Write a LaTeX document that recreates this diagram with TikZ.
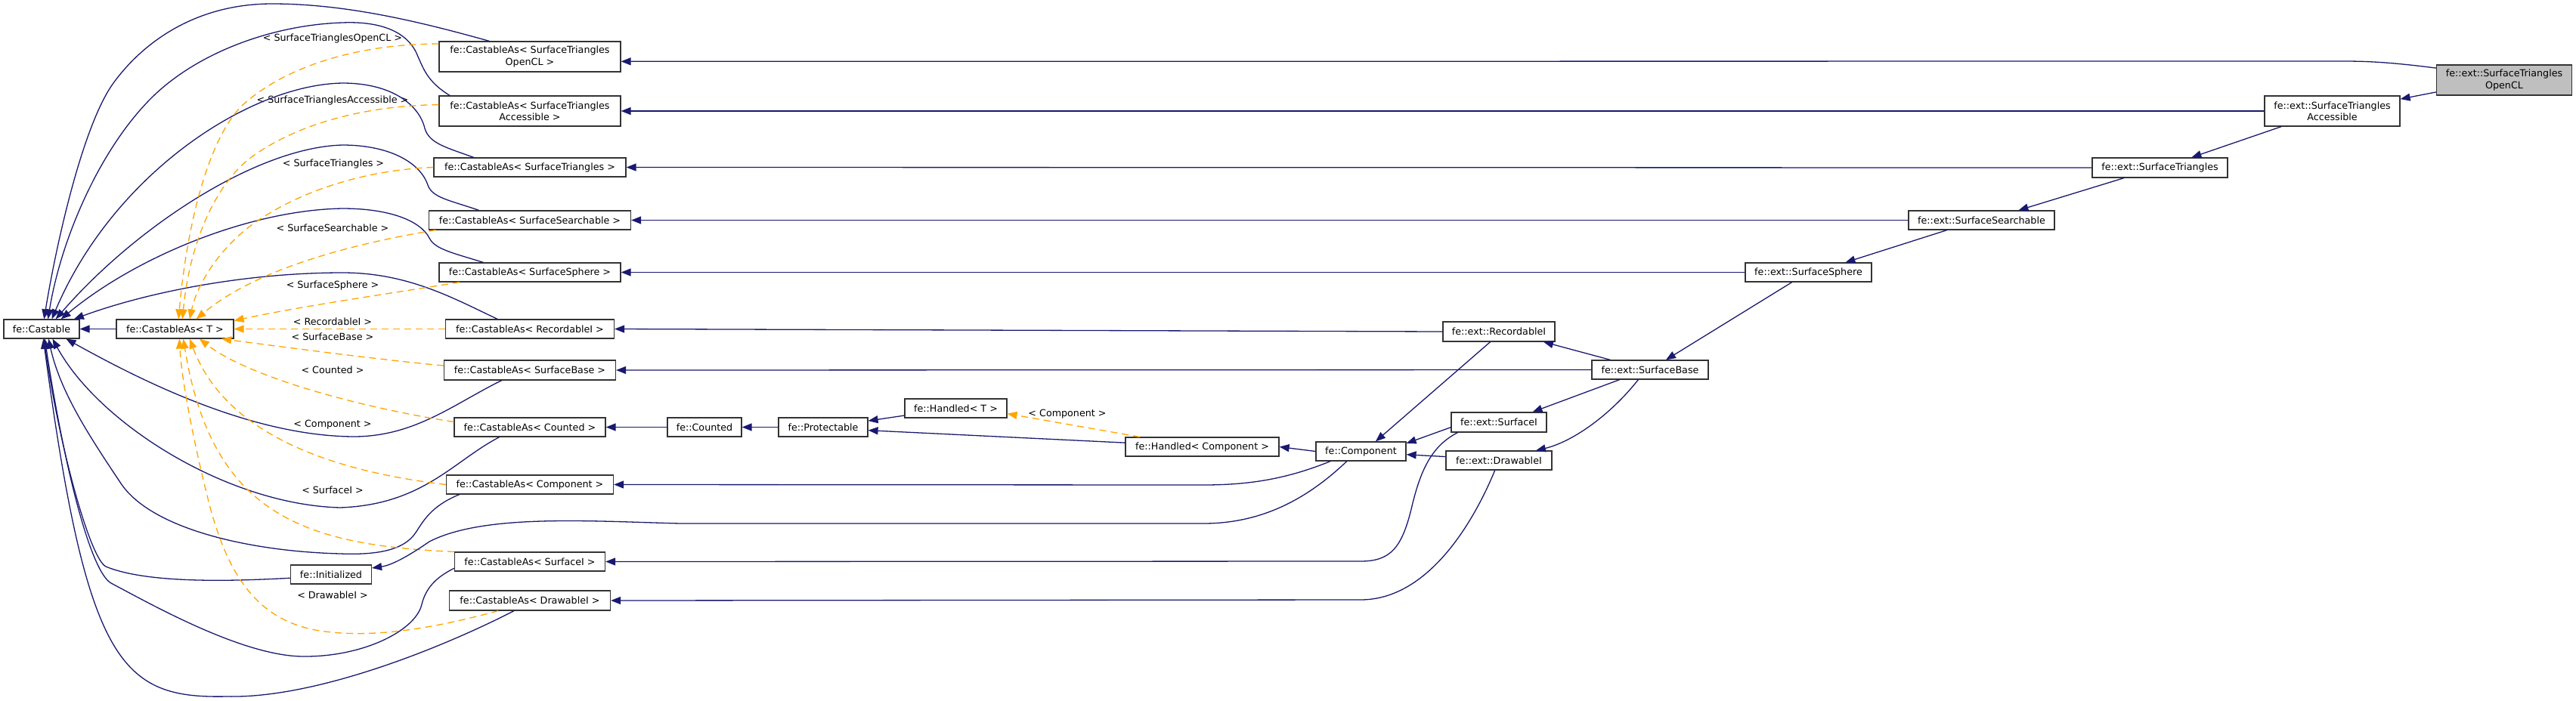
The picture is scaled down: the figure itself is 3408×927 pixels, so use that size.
\documentclass[tikz,border=0pt]{standalone}
\usepackage{fontspec}
\setmainfont{DejaVu Sans}
\usetikzlibrary{arrows.meta}
\definecolor{navyc}{HTML}{191970}
\definecolor{orangec}{HTML}{FFA500}
\definecolor{boxgray}{HTML}{BFBFBF}
\definecolor{bordc}{HTML}{333333}
\begin{document}
\begin{tikzpicture}[x=1pt,y=-1pt,
  box/.style={draw=bordc, line width=1.2pt, fill=white, inner sep=0pt, align=center,
    font=\fontsize{12.7pt}{15.2pt}\selectfont},
  inh/.style={draw=navyc, line width=1.3pt, -{Triangle[length=13pt,width=10pt]}},
  tmpl/.style={draw=orangec, line width=1.3pt, dash pattern=on 9pt off 6pt, -{Triangle[length=13pt,width=10pt]}},
  lbl/.style={inner sep=0pt, font=\fontsize{12.7pt}{15.2pt}\selectfont}]
\useasboundingbox (0,0) rectangle (3408,927);

% nodes
\node[box,minimum width=100pt,minimum height=25pt] (Castable) at (55,435.5) {fe::Castable};
\node[box,minimum width=155pt,minimum height=25pt] (CastT) at (231.5,435.5) {fe::CastableAs< T >};
\node[box,minimum width=240pt,minimum height=40pt] (CASTOCL) at (701,75) {fe::CastableAs< SurfaceTriangles\\OpenCL >};
\node[box,minimum width=240pt,minimum height=40pt] (CASTA) at (701,147) {fe::CastableAs< SurfaceTriangles\\Accessible >};
\node[box,minimum width=254pt,minimum height=25pt] (CAST) at (701,221.5) {fe::CastableAs< SurfaceTriangles >};
\node[box,minimum width=267pt,minimum height=25pt] (CASS) at (701,291.5) {fe::CastableAs< SurfaceSearchable >};
\node[box,minimum width=240pt,minimum height=25pt] (CASSph) at (701,360.5) {fe::CastableAs< SurfaceSphere >};
\node[box,minimum width=223pt,minimum height=25pt] (CARec) at (701,435.5) {fe::CastableAs< RecordableI >};
\node[box,minimum width=227pt,minimum height=26pt] (CASB) at (701,490) {fe::CastableAs< SurfaceBase >};
\node[box,minimum width=200pt,minimum height=25pt] (CACnt) at (701,565.5) {fe::CastableAs< Counted >};
\node[box,minimum width=221pt,minimum height=25pt] (CAComp) at (701,641.5) {fe::CastableAs< Component >};
\node[box,minimum width=107pt,minimum height=25pt] (Init) at (438,760.5) {fe::Initialized};
\node[box,minimum width=199pt,minimum height=25pt] (CASI) at (701,743.5) {fe::CastableAs< SurfaceI >};
\node[box,minimum width=213pt,minimum height=26pt] (CADI) at (701,795) {fe::CastableAs< DrawableI >};
\node[box,minimum width=98pt,minimum height=25pt] (Counted) at (932,565.5) {fe::Counted};
\node[box,minimum width=118pt,minimum height=25pt] (Protectable) at (1089,565.5) {fe::Protectable};
\node[box,minimum width=135pt,minimum height=25pt] (HandT) at (1264.5,540.5) {fe::Handled< T >};
\node[box,minimum width=203pt,minimum height=25pt] (HandComp) at (1590.5,591.5) {fe::Handled< Component >};
\node[box,minimum width=119pt,minimum height=25pt] (Component) at (1800.5,597.5) {fe::Component};
\node[box,minimum width=148pt,minimum height=26pt] (RecI) at (1983,439) {fe::ext::RecordableI};
\node[box,minimum width=126pt,minimum height=26pt] (SurfI) at (1983,559) {fe::ext::SurfaceI};
\node[box,minimum width=140pt,minimum height=25pt] (DrawI) at (1983,609.5) {fe::ext::DrawableI};
\node[box,minimum width=154pt,minimum height=25pt] (SBase) at (2183,489.5) {fe::ext::SurfaceBase};
\node[box,minimum width=167pt,minimum height=25pt] (SSph) at (2392.5,360.5) {fe::ext::SurfaceSphere};
\node[box,minimum width=193pt,minimum height=25pt] (SSe) at (2621.5,291.5) {fe::ext::SurfaceSearchable};
\node[box,minimum width=179pt,minimum height=26pt] (ST) at (2857.5,222) {fe::ext::SurfaceTriangles};
\node[box,minimum width=179pt,minimum height=40pt] (STA) at (3085.5,147) {fe::ext::SurfaceTriangles\\Accessible};
\node[box,minimum width=179pt,minimum height=40pt,fill=boxgray] (STOCL) at (3313,106) {fe::ext::SurfaceTriangles\\OpenCL};

% labels
\node[lbl] (l1) at (440,51) {< SurfaceTrianglesOpenCL >};
\node[lbl] (l2) at (440,133) {< SurfaceTrianglesAccessible >};
\node[lbl] (l3) at (441,217) {< SurfaceTriangles >};
\node[lbl] (l4) at (440,302) {< SurfaceSearchable >};
\node[lbl] (l5) at (440,378) {< SurfaceSphere >};
\node[lbl] (l6) at (440,426) {< RecordableI >};
\node[lbl] (l7) at (440,446) {< SurfaceBase >};
\node[lbl] (l8) at (440,490) {< Counted >};
\node[lbl] (l9) at (440,562) {< Component >};
\node[lbl] (l10) at (440,649) {< SurfaceI >};
\node[lbl] (l11) at (440,788) {< DrawableI >};
\node[lbl] (l12) at (1412,548) {< Component >};

% Castable connections
\draw[inh] (CastT.west) -- (Castable.east);
\draw[inh] (CASTOCL.159) .. controls (560,30) and (460,5) .. (360,5) .. controls (260,5) and (190,55) .. (150,110) .. controls (110,165) and (75,320) .. (Castable.76);
\draw[inh] (CASTA.169) .. controls (565,108) and (560,90) .. (553,75) .. controls (540,40) and (500,28) .. (453,30) .. controls (360,33) and (260,70) .. (200,130) .. controls (130,200) and (80,320) .. (Castable.57);
\draw[inh] (CAST.170) .. controls (590,195) and (568,190) .. (562,170) .. controls (555,140) and (520,110) .. (453,110) .. controls (330,112) and (150,230) .. (Castable.44);
\draw[inh] (CASS.169) .. controls (595,265) and (572,262) .. (566,245) .. controls (556,215) and (515,192) .. (453,192) .. controls (340,195) and (180,300) .. (Castable.35);
\draw[inh] (CASSph.168) .. controls (600,335) and (575,330) .. (568,315) .. controls (556,292) and (515,276) .. (453,276) .. controls (330,278) and (180,340) .. (Castable.27);
\draw[inh] (CARec.163) .. controls (600,395) and (540,361) .. (453,361) .. controls (330,361) and (200,385) .. (Castable.17);
\draw[inh] (CASB.200) .. controls (600,535) and (550,577) .. (470,578) .. controls (330,578) and (180,500) .. (Castable.-22);
\draw[inh] (CACnt.198) .. controls (600,610) and (560,668) .. (450,672) .. controls (300,668) and (130,560) .. (Castable.-42);
\draw[inh] (CAComp.188) .. controls (570,670) and (560,690) .. (550,705) .. controls (535,728) and (500,735) .. (450,733) .. controls (330,730) and (200,700) .. (160,640) .. controls (120,580) and (80,520) .. (Castable.-55);
\draw[inh] (Init.185) .. controls (330,768) and (200,775) .. (140,750) .. controls (120,740) and (80,600) .. (Castable.-77);
\draw[inh] (CASI.185) .. controls (575,765) and (563,780) .. (558,800) .. controls (550,835) and (480,870) .. (400,869) .. controls (320,868) and (200,800) .. (147,772) .. controls (120,757) and (85,620) .. (Castable.-72);
\draw[inh] (CADI.213) .. controls (590,855) and (420,925) .. (300,922) .. controls (160,925) and (115,880) .. (Castable.-80);

% template instantiations
\draw[tmpl] (CASTOCL.172) .. controls (480,58) and (380,85) .. (320,140) .. controls (270,190) and (245,320) .. (CastT.70);
\draw[tmpl] (CASTA.176) .. controls (480,140) and (390,165) .. (330,210) .. controls (280,250) and (250,330) .. (CastT.53);
\draw[tmpl] (CAST.west) .. controls (480,225) and (390,255) .. (330,300) .. controls (285,335) and (260,380) .. (CastT.34);
\draw[tmpl] (CASS.186) .. controls (470,322) and (340,355) .. (CastT.25);
\draw[tmpl] (CASSph.188) .. controls (520,388) and (400,405) .. (CastT.8);
\draw[tmpl] (CARec.west) -- (CastT.east);
\draw[tmpl] (CASB.177) .. controls (500,476) and (380,460) .. (CastT.-12);
\draw[tmpl] (CACnt.176) .. controls (480,540) and (330,500) .. (CastT.-22);
\draw[tmpl] (CAComp.west) .. controls (450,625) and (300,580) .. (CastT.-34);
\draw[tmpl] (CASI.north west) .. controls (400,722) and (280,680) .. (CastT.-50);
\draw[tmpl] (CADI.198) .. controls (580,830) and (500,845) .. (430,836) .. controls (340,825) and (300,760) .. (275,660) .. controls (255,580) and (240,500) .. (CastT.-66);
\draw[tmpl] (HandComp.171) -- (HandT.-6);

% right-hand inheritance
\draw[inh] (STOCL.170) .. controls (3160,82) and (3130,81) .. (3099,81) -- (CASTOCL.-3);
\draw[inh] (STA.west) -- (CASTA.east);
\draw[inh] (ST.west) -- (CAST.east);
\draw[inh] (SSe.west) -- (CASS.east);
\draw[inh] (SSph.west) -- (CASSph.east);
\draw[inh] (RecI.west) -- (CARec.east);
\draw[inh] (SBase.west) -- (CASB.east);
\draw[inh] (Counted.west) -- (CACnt.east);
\draw[inh] (Protectable.west) -- (Counted.east);
\draw[inh] (HandT.188) -- (Protectable.8);
\draw[inh] (HandComp.177) -- (Protectable.-4);
\draw[inh] (Component.west) -- (HandComp.east);
\draw[inh] (Component.198) .. controls (1700,635) and (1650,642) .. (1592,642) -- (CAComp.east);
\draw[inh] (Component.215) .. controls (1730,660) and (1670,693) .. (1592,693) -- (900,693) .. controls (780,690) and (640,680) .. (568,717) .. controls (545,733) and (520,748) .. (Init.9);
\draw[inh] (SurfI.194) .. controls (1895,590) and (1880,620) .. (1868,670) .. controls (1855,725) and (1840,743) .. (1800,743) -- (CASI.east);
\draw[inh] (DrawI.248) .. controls (1950,690) and (1890,794) .. (1800,794) -- (CADI.east);
\draw[inh] (RecI.230) -- (Component.34);
\draw[inh] (SurfI.186) -- (Component.10);
\draw[inh] (DrawI.176) -- (Component.-4);
\draw[inh] (SBase.166) -- (RecI.-13);
\draw[inh] (SBase.198) -- (SurfI.17);
\draw[inh] (SBase.220) .. controls (2130,550) and (2080,585) .. (DrawI.15);
\draw[inh] (SSph.211) -- (SBase.32);
\draw[inh] (SSe.196) -- (SSph.15);
\draw[inh] (ST.196) -- (SSe.15);
\draw[inh] (STA.197) -- (ST.18);
\draw[inh] (STOCL.190) -- (STA.10);
\end{tikzpicture}
\end{document}
